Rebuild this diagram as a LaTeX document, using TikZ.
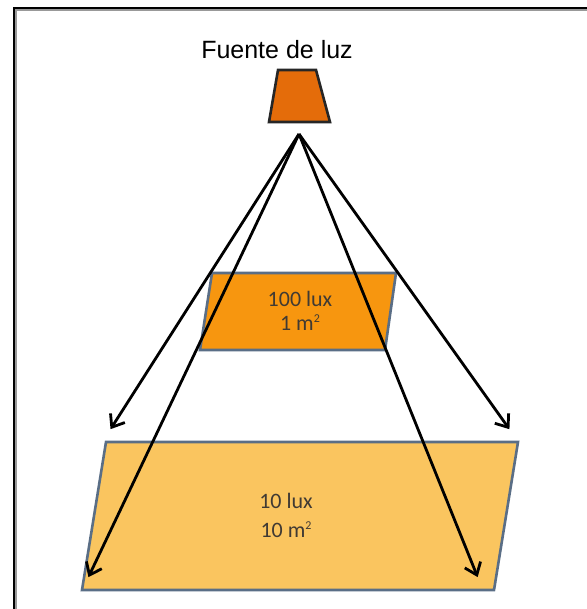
\documentclass[tikz,border=0pt]{standalone}
\usepackage{fontspec}
\setmainfont{Liberation Sans}
\newfontfamily\calibrifont{Carlito}
\usetikzlibrary{arrows.meta}
\definecolor{sourceorange}{HTML}{E46C0A}
\definecolor{nearorange}{HTML}{F7960F}
\definecolor{farorange}{HTML}{FAC55F}
\definecolor{planeedge}{HTML}{5A6E86}
\definecolor{luxtext}{HTML}{403A33}
\newcommand{\sqm}{m\raisebox{0.35em}{\fontsize{12}{12}\selectfont 2}}
\begin{document}
\begin{tikzpicture}[x=1pt, y=-1pt,
        plane/.style={draw=planeedge, line width=2.6pt, line join=miter},
        luxlabel/.style={text=luxtext, align=center, font=\calibrifont\fontsize{22}{24}\selectfont},
        ray/.style={-{Straight Barb[length=11pt, width=17pt, line width=2.8pt]}, line width=2.8pt, shorten >=1pt}
    ]
        \useasboundingbox (0,0) rectangle (586,609);
        \fill[white] (0,0) rectangle (586,609);
        % frame
        \draw[black!40, line width=3pt] (15.5,610) -- (15.5,9.5) -- (587,9.5);
        \draw[black, line width=2pt] (14,610) -- (14,8) -- (587,8);

        \node[font=\fontsize{25}{28}\selectfont] (title) at (277,50) {Fuente de luz};
        \filldraw[fill=sourceorange, draw=black!85, line width=2.6pt]
            (278,70) -- (316,70) -- (330,122) -- (269,122) -- cycle;

        \filldraw[plane, fill=nearorange] (212,273) -- (396,273) -- (385,350) -- (200,350) -- cycle;
        \node[luxlabel] (near) at (300,311) {100 lux\\1 \sqm};

        \filldraw[plane, fill=farorange] (106,442) -- (518,442) -- (494,590) -- (82,590) -- cycle;
        \node[luxlabel, font=\calibrifont\fontsize{22}{29}\selectfont] (far) at (286,515) {10 lux\\10 \sqm};

        \coordinate (apex) at (299,134);
        \coordinate (nearleft) at (110,430);
        \coordinate (nearright) at (510,430);
        \coordinate (farleft) at (88,578);
        \coordinate (farright) at (478,578);
        \foreach \tip in {nearleft, nearright, farleft, farright}
            \draw[ray] (apex) -- (\tip);
    \end{tikzpicture}
\end{document}
